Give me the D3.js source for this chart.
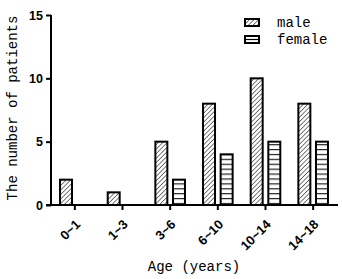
<!DOCTYPE html>
<html><head><meta charset="utf-8">
<script src="https://cdn.jsdelivr.net/npm/d3@7"></script>
<style>body{margin:0;background:#fff}</style>
</head><body>
<svg id="c" width="342" height="279"></svg>
<script>
const categories = ["0~1","1~3","3~6","6~10","10~14","14~18"];
const series = ["male","female"];
const maleValues = [2,1,5,8,10,8];
const femaleValues = [0,0,2,4,5,5];
const yTicks = [0,5,10,15];

const svg = d3.select("#c");
const defs = svg.append("defs");
const pm = defs.append("pattern").attr("id","hatchMale").attr("patternUnits","userSpaceOnUse")
  .attr("width",3.2).attr("height",3.2).attr("patternTransform","rotate(45)");
pm.append("rect").attr("width",3.2).attr("height",3.2).attr("fill","#fff");
pm.append("line").attr("x1",0).attr("y1",0).attr("x2",0).attr("y2",3.2).attr("stroke","#222").attr("stroke-width",1.2);
const pf = defs.append("pattern").attr("id","hatchFemale").attr("patternUnits","userSpaceOnUse")
  .attr("width",10).attr("height",4.9).attr("y",2);
pf.append("rect").attr("width",10).attr("height",4.9).attr("fill","#fff");
pf.append("line").attr("x1",0).attr("y1",0.6).attr("x2",10).attr("y2",0.6).attr("stroke","#222").attr("stroke-width",1.2);
const fills = {male:"url(#hatchMale)", female:"url(#hatchFemale)"};

const x0 = d3.scaleBand().domain(categories).range([51,337]).padding(0);
const x1 = d3.scaleBand().domain(series)
  .range([x0.bandwidth()/2-14.8, x0.bandwidth()/2+14.8]).paddingInner(0.32);
const y = d3.scaleLinear().domain([0,15]).range([205,15]);

const data = categories.map((c,i)=>({cat:c, male:maleValues[i], female:femaleValues[i]}));

const g = svg.append("g");
g.selectAll("g.grp").data(data).join("g").attr("class","grp")
  .attr("transform",d=>`translate(${x0(d.cat)},0)`)
  .selectAll("rect").data(d=>series.map(s=>({s, v:d[s]})).filter(e=>e.v>0)).join("rect")
  .attr("x",e=>x1(e.s)).attr("width",x1.bandwidth())
  .attr("y",e=>y(e.v)).attr("height",e=>y(0)-y(e.v))
  .attr("fill",e=>fills[e.s]).attr("stroke","#000").attr("stroke-width",2);

// Y axis
const ya = svg.append("g").attr("transform","translate(51,0)")
  .call(d3.axisLeft(y).tickValues(yTicks).tickSize(5).tickPadding(3));
ya.select(".domain").attr("stroke-width",2).attr("d","M0,15V205");
ya.selectAll(".tick line").attr("stroke-width",2);
ya.selectAll("text").attr("font-family","Liberation Sans, Arial, sans-serif")
  .attr("font-weight","bold").attr("font-size",12.5).attr("fill","#000");

// X axis
const xa = svg.append("g").attr("transform","translate(0,205)")
  .call(d3.axisBottom(x0).tickSize(5).tickPadding(2));
xa.select(".domain").attr("stroke-width",2).attr("d","M46,0H338");
xa.selectAll(".tick line").attr("stroke-width",2);
xa.selectAll("text").attr("font-family","Liberation Sans, Arial, sans-serif")
  .attr("font-weight","bold").attr("font-size",13).attr("fill","#000")
  .attr("text-anchor","end").attr("x",0).attr("y",0).attr("dy","0.35em")
  .attr("transform","translate(3,17) rotate(-45)");

// Axis titles
svg.append("text").attr("x",194).attr("y",271).attr("text-anchor","middle")
  .attr("font-family","Liberation Mono, monospace").attr("font-size",14).text("Age (years)");
svg.append("text").attr("transform","translate(17,108) rotate(-90)").attr("text-anchor","middle")
  .attr("font-family","Liberation Mono, monospace").attr("font-size",14).text("The number of patients");

// Legend
const lg = svg.append("g").selectAll("g").data(series).join("g")
  .attr("transform",(d,i)=>`translate(245,${19+i*17})`);
lg.append("rect").attr("width",14).attr("height",7).attr("fill",d=>d==="male"?fills.male:"#fff")
  .attr("stroke","#000").attr("stroke-width",2);
lg.filter(d=>d==="female").append("line").attr("x1",0).attr("x2",14).attr("y1",3.5).attr("y2",3.5)
  .attr("stroke","#000").attr("stroke-width",1.2);
lg.append("text").attr("x",32).attr("y",8).attr("font-family","Liberation Mono, monospace")
  .attr("font-size",14).text(d=>d);
</script>
</body></html>
